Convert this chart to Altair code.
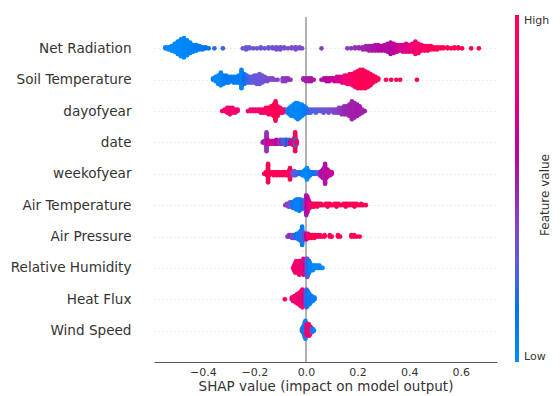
import math
import altair as alt
import numpy as np
import pandas as pd

FEATURES = ["Net Radiation", "Soil Temperature", "dayofyear", "date", "weekofyear",
            "Air Temperature", "Air Pressure", "Relative Humidity", "Heat Flux", "Wind Speed"]

# (SHAP value, number of samples in that bin, normalised feature value)
NET_RADIATION = [
    (-0.545, 2, .05), (-0.533, 3, .03), (-0.521, 5, .02), (-0.509, 8, .0), (-0.497, 12, .02),
    (-0.485, 16, .0), (-0.473, 18, .03), (-0.461, 14, .02), (-0.449, 10, .05), (-0.437, 7, .08),
    (-0.425, 6, .1), (-0.413, 4, .1), (-0.401, 3, .12), (-0.389, 2, .15), (-0.377, 1, .15),
    (-0.355, 1, .2), (-0.322, 1, .22),
    (-0.245, 1, .32), (-0.232, 3, .3), (-0.220, 2, .3), (-0.205, 1, .33), (-0.190, 1, .3),
    (-0.175, 2, .32), (-0.160, 1, .35), (-0.145, 2, .33), (-0.130, 2, .35), (-0.115, 3, .34),
    (-0.100, 3, .36), (-0.085, 2, .35), (-0.070, 1, .37), (-0.055, 2, .36), (-0.040, 3, .35),
    (-0.025, 2, .38), (-0.015, 1, .38), (0.06, 1, .4),
    (0.16, 1, .42), (0.175, 1, .45), (0.19, 2, .45), (0.205, 2, .48), (0.22, 3, .5),
    (0.232, 4, .5), (0.244, 5, .52), (0.256, 5, .55), (0.268, 6, .55), (0.28, 6, .58),
    (0.292, 5, .6), (0.304, 6, .58), (0.316, 8, .55), (0.328, 11, .6), (0.340, 9, .62),
    (0.352, 7, .65), (0.364, 6, .7), (0.376, 7, .72), (0.388, 8, .75), (0.400, 7, .78),
    (0.412, 8, .82), (0.424, 12, .88), (0.436, 9, .9), (0.448, 6, .92), (0.460, 5, .9),
    (0.472, 5, .95), (0.484, 4, .95), (0.496, 3, .97), (0.508, 3, .95), (0.520, 2, .97),
    (0.532, 2, 1.0), (0.548, 2, .98), (0.562, 1, 1.0), (0.575, 2, .97), (0.590, 2, 1.0),
    (0.605, 1, .98), (0.64, 1, 1.0), (0.67, 1, 1.0),
]
SOIL_TEMPERATURE = [
    (-0.36, 2, .05), (-0.35, 4, .03), (-0.34, 7, .02), (-0.33, 10, .05), (-0.32, 7, .08),
    (-0.31, 6, .1), (-0.30, 5, .1), (-0.29, 4, .12), (-0.28, 5, .1), (-0.27, 5, .08),
    (-0.26, 6, .1), (-0.25, 14, .05), (-0.24, 8, .15), (-0.23, 6, .2), (-0.22, 5, .25),
    (-0.21, 5, .28), (-0.20, 6, .3), (-0.19, 7, .32), (-0.18, 8, .3), (-0.17, 6, .33),
    (-0.16, 4, .35), (-0.15, 3, .35), (-0.14, 2, .38), (-0.13, 2, .38), (-0.12, 1, .4),
    (-0.11, 1, .4), (-0.09, 3, .42), (-0.08, 3, .42), (-0.07, 2, .45), (-0.06, 1, .45),
    (-0.01, 2, .5), (0.0, 3, .52), (0.01, 3, .52), (0.02, 3, .55), (0.03, 1, .55),
    (0.06, 1, .55), (0.07, 2, .58), (0.08, 3, .6), (0.09, 3, .62), (0.10, 2, .62),
    (0.11, 3, .65), (0.12, 4, .7), (0.13, 4, .72), (0.14, 5, .75), (0.15, 6, .8),
    (0.16, 7, .85), (0.17, 8, .88), (0.18, 9, .9), (0.19, 11, .92), (0.20, 13, .95),
    (0.21, 14, .97), (0.22, 14, 1.0), (0.23, 13, .97), (0.24, 11, .95), (0.25, 9, .97),
    (0.26, 6, .95), (0.27, 4, .98), (0.28, 2, .95), (0.31, 1, 1.0), (0.33, 1, .98),
    (0.35, 1, 1.0), (0.365, 1, .97), (0.43, 1, 1.0),
]
DAYOFYEAR = [
    (-0.325, 1, .88), (-0.315, 2, .85), (-0.305, 4, .85), (-0.295, 5, .87), (-0.285, 4, .85),
    (-0.275, 3, .88), (-0.265, 2, .85), (-0.225, 1, .85), (-0.215, 2, .88), (-0.205, 2, .85),
    (-0.195, 2, .9), (-0.185, 2, .88), (-0.175, 3, .9), (-0.165, 3, .92), (-0.155, 4, .9),
    (-0.145, 5, .95), (-0.135, 6, .97), (-0.125, 8, 1.0), (-0.118, 13, 1.0), (-0.110, 7, .97),
    (-0.100, 4, .95), (-0.090, 3, .92), (-0.082, 2, .9), (-0.072, 3, .05), (-0.064, 5, .08),
    (-0.056, 7, .05), (-0.048, 8, .03), (-0.040, 10, .02), (-0.032, 11, 0.0), (-0.024, 9, .05),
    (-0.016, 8, .03), (-0.008, 6, .08), (0.0, 4, .12), (0.008, 3, .2), (0.018, 3, .25),
    (0.028, 2, .28), (0.038, 3, .25), (0.048, 2, .3), (0.058, 2, .3), (0.068, 3, .32),
    (0.078, 2, .33), (0.088, 3, .35), (0.098, 2, .36), (0.108, 3, .38), (0.118, 3, .4),
    (0.128, 4, .42), (0.138, 5, .45), (0.148, 6, .48), (0.158, 6, .5), (0.168, 8, .5),
    (0.178, 12, .52), (0.188, 10, .5), (0.198, 8, .55), (0.208, 6, .53), (0.218, 3, .5),
    (0.228, 1, .55),
]
DATE = [
    (-0.168, 1, .5), (-0.162, 2, .55), (-0.157, 3, .5), (-0.153, 16, .45), (-0.149, 4, .6),
    (-0.145, 3, .7), (-0.140, 3, .75), (-0.135, 3, .7), (-0.130, 2, .65), (-0.125, 3, .7),
    (-0.120, 3, .55), (-0.115, 4, .6), (-0.110, 3, .65), (-0.105, 3, .5), (-0.100, 4, .45),
    (-0.095, 3, .7), (-0.090, 4, .1), (-0.085, 3, .4), (-0.080, 5, .35), (-0.075, 4, .15),
    (-0.070, 3, .5), (-0.065, 4, .1), (-0.060, 3, .6), (-0.055, 3, .75), (-0.050, 5, .9),
    (-0.046, 6, .95), (-0.042, 16, 1.0), (-0.041, 4, .1), (-0.039, 5, .1), (-0.036, 3, .9),
]
WEEKOFYEAR = [
    (-0.162, 1, .95), (-0.156, 2, 1.0), (-0.151, 3, 1.0), (-0.147, 14, 1.0), (-0.143, 3, .98),
    (-0.138, 2, 1.0), (-0.132, 2, .95), (-0.126, 3, 1.0), (-0.120, 2, .97), (-0.114, 3, 1.0),
    (-0.108, 2, .95), (-0.102, 3, 1.0), (-0.096, 2, .98), (-0.090, 3, .95), (-0.084, 2, 1.0),
    (-0.078, 3, .92), (-0.072, 3, .95), (-0.066, 4, .97), (-0.062, 9, 1.0), (-0.058, 3, .9),
    (-0.052, 3, .4), (-0.046, 4, .3), (-0.040, 3, .35), (-0.034, 2, .2), (-0.028, 2, .25),
    (-0.020, 2, .15), (-0.014, 3, .1), (-0.008, 4, .05), (-0.002, 6, .03), (0.004, 9, .0),
    (0.010, 5, .05), (0.016, 3, .08), (0.022, 2, .1), (0.030, 2, .15), (0.038, 2, .2),
    (0.046, 2, .25), (0.054, 3, .45), (0.060, 5, .55), (0.066, 7, .6), (0.070, 8, .5),
    (0.074, 15, .55), (0.078, 7, .65), (0.083, 6, .6), (0.088, 4, .7), (0.094, 3, .55),
    (0.100, 2, .65),
]
AIR_TEMPERATURE = [
    (-0.080, 1, .45), (-0.074, 2, .4), (-0.068, 3, .38), (-0.062, 4, .35), (-0.056, 4, .3),
    (-0.050, 5, .15), (-0.044, 6, .1), (-0.038, 8, .05), (-0.032, 8, .08), (-0.026, 9, .05),
    (-0.020, 8, .1), (-0.014, 6, .15), (-0.008, 5, .2), (-0.003, 8, .4), (0.001, 15, .5),
    (0.005, 12, .6), (0.009, 8, .65), (0.014, 5, .75), (0.020, 3, .85), (0.026, 3, .9),
    (0.032, 3, .95), (0.038, 2, .95), (0.044, 3, 1.0), (0.050, 2, .95), (0.058, 2, 1.0),
    (0.066, 1, .97), (0.076, 2, 1.0), (0.084, 3, .97), (0.092, 2, 1.0), (0.100, 1, .95),
    (0.110, 2, 1.0), (0.118, 3, .97), (0.126, 2, 1.0), (0.134, 1, .95), (0.146, 2, 1.0),
    (0.154, 3, .98), (0.162, 2, .95), (0.170, 2, 1.0), (0.180, 2, .97), (0.188, 3, 1.0),
    (0.196, 2, .95), (0.206, 1, 1.0), (0.214, 2, .97), (0.222, 1, 1.0), (0.232, 1, .98),
]
AIR_PRESSURE = [
    (-0.072, 1, .45), (-0.066, 2, .4), (-0.060, 2, .5), (-0.054, 3, .35), (-0.048, 3, .4),
    (-0.042, 3, .2), (-0.036, 4, .15), (-0.030, 5, .25), (-0.025, 6, .1), (-0.020, 8, .05),
    (-0.015, 14, .1), (-0.011, 6, .3), (-0.007, 5, .45), (-0.003, 4, .2), (0.002, 5, .6),
    (0.008, 4, .85), (0.014, 3, .95), (0.020, 3, 1.0), (0.026, 2, .95), (0.032, 3, 1.0),
    (0.038, 2, .97), (0.046, 2, 1.0), (0.054, 2, .95), (0.062, 1, 1.0), (0.072, 2, .98),
    (0.092, 2, 1.0), (0.100, 1, .97), (0.124, 2, 1.0), (0.132, 1, .95), (0.176, 2, 1.0),
    (0.186, 2, .97), (0.196, 1, 1.0), (0.208, 1, .98),
]
RELATIVE_HUMIDITY = [
    (-0.050, 1, .85), (-0.046, 3, .9), (-0.042, 5, .8), (-0.038, 6, .95), (-0.034, 4, .75),
    (-0.030, 5, .9), (-0.026, 7, 1.0), (-0.022, 6, .8), (-0.018, 4, .85), (-0.014, 6, .95),
    (-0.010, 8, .7), (-0.006, 5, .85), (-0.002, 4, .6), (0.002, 8, .45), (0.005, 9, .35),
    (0.008, 7, .2), (0.012, 6, .1), (0.016, 4, .05), (0.020, 3, .0), (0.026, 3, .05),
    (0.032, 2, .02), (0.038, 2, .05), (0.045, 2, .0), (0.052, 2, .03), (0.058, 1, .05),
    (0.064, 1, .0),
]
HEAT_FLUX = [
    (-0.082, 1, 1.0), (-0.055, 2, .9), (-0.050, 3, .75), (-0.045, 4, .8), (-0.040, 5, .95),
    (-0.035, 6, .85), (-0.030, 7, .7), (-0.026, 8, .9), (-0.022, 9, 1.0), (-0.018, 10, .8),
    (-0.014, 12, .85), (-0.010, 9, .95), (-0.006, 7, .6), (-0.002, 10, .45), (0.002, 12, .3),
    (0.006, 10, .15), (0.010, 8, .1), (0.014, 7, .05), (0.018, 5, .1), (0.022, 4, .2),
    (0.027, 3, .05), (0.033, 2, .1),
]
WIND_SPEED = [
    (-0.016, 2, .3), (-0.012, 4, .1), (-0.008, 6, .05), (-0.005, 10, .2), (-0.002, 12, .05),
    (0.001, 8, .45), (0.004, 6, .7), (0.007, 7, .9), (0.010, 8, 1.0), (0.013, 7, .85),
    (0.016, 5, .95), (0.019, 4, .75), (0.023, 3, .3), (0.027, 2, .1), (0.031, 1, .05),
]

ROWS = [NET_RADIATION, SOIL_TEMPERATURE, DAYOFYEAR, DATE, WEEKOFYEAR,
        AIR_TEMPERATURE, AIR_PRESSURE, RELATIVE_HUMIDITY, HEAT_FLUX, WIND_SPEED]

X_TICKS = [-0.4, -0.2, 0.0, 0.2, 0.4, 0.6]
COLORBAR_TITLE = "Feature value"
X_TITLE = "SHAP value (impact on model output)"


# shap "red_blue" colormap: LCH interpolation (blue -> dark purple -> red)
def lch_to_hex(l, c, h):
    a, b = c * math.cos(h), c * math.sin(h)
    fy = (l + 16) / 116
    fx, fz = fy + a / 500, fy - b / 200
    finv = lambda t: t ** 3 if t > 6 / 29 else 3 * (6 / 29) ** 2 * (t - 4 / 29)
    X, Y, Z = 0.95047 * finv(fx), finv(fy), 1.08883 * finv(fz)
    rgb = [3.2406 * X - 1.5372 * Y - 0.4986 * Z,
           -0.9689 * X + 1.8758 * Y + 0.0415 * Z,
           0.0557 * X - 0.2040 * Y + 1.0570 * Z]
    out = []
    for v in rgb:
        v = 12.92 * v if v <= 0.0031308 else 1.055 * max(v, 0) ** (1 / 2.4) - 0.055
        out.append(int(round(min(max(v, 0), 1) * 255)))
    return "#%02x%02x%02x" % tuple(out)


blue_lch = (54.0, 70.0, 4.6588)
red_lch = (54.0, 90.0, 0.35470565 + 2 * np.pi)
l_mid = 40.0
nsteps = 100
l_vals = list(np.linspace(blue_lch[0], l_mid, nsteps // 2)) + list(np.linspace(l_mid, red_lch[0], nsteps // 2))
c_vals = np.linspace(blue_lch[1], red_lch[1], nsteps)
h_vals = np.linspace(blue_lch[2], red_lch[2], nsteps)
idx = list(range(0, nsteps, 5)) + [nsteps - 1]
CMAP = [lch_to_hex(l_vals[k], c_vals[k], h_vals[k]) for k in idx]
CMAP_DOMAIN = [k / (nsteps - 1) for k in idx]

# deterministic beeswarm layout (as in shap.summary_plot)
records = []
n_feat = len(FEATURES)
for i, (name, groups) in enumerate(zip(FEATURES, ROWS)):
    pos = n_feat - 1 - i
    pts = []
    for shap, n, fv in groups:
        for layer in range(n):
            off = math.ceil(layer / 2) * ((layer % 2) * 2 - 1)
            pts.append((shap, fv, off))
    m = max(p[2] for p in pts) + 1
    for shap, fv, off in pts:
        records.append({"feature": name, "shap": shap, "fv": fv,
                        "y": pos + off * 0.9 * 0.4 / m})
df = pd.DataFrame(records)

x_scale = alt.Scale(domain=[-0.5891, 0.7403], nice=False, zero=False)
y_scale = alt.Scale(domain=[-1, n_feat], nice=False, zero=False)
names_js = "[" + ",".join("'" + f + "'" for f in reversed(FEATURES)) + "]"

x_axis = alt.Axis(values=X_TICKS, title=X_TITLE,
                  labelExpr="replace(format(datum.value, '.1f'), '-', '\u2212')",
                  grid=False, ticks=False,
                  domainColor="#555555", domainWidth=1,
                  labelFontSize=11, labelColor="#333333", labelPadding=4,
                  titleFontSize=13.5, titleFontWeight="normal", titleColor="#333333",
                  titlePadding=2)

zero_line = alt.Chart(pd.DataFrame({"shap": [0.0]})).mark_rule(
    color="#999999", strokeWidth=1.5
).encode(x=alt.X("shap:Q", scale=x_scale, axis=x_axis))

dots = alt.Chart(df).mark_circle(size=22, opacity=1, strokeWidth=0).encode(
    x=alt.X("shap:Q", scale=x_scale, axis=x_axis),
    y=alt.Y("y:Q", scale=y_scale,
            axis=alt.Axis(values=list(range(n_feat)), labelExpr=names_js + "[datum.value]",
                          grid=True, gridDash=[1, 3], gridColor="#cccccc", gridWidth=0.7,
                          domain=False, ticks=False, labelPadding=23, labelFontSize=13.6,
                          labelColor="#333333", title=None)),
    color=alt.Color("fv:Q",
                    scale=alt.Scale(domain=CMAP_DOMAIN, range=CMAP, interpolate="rgb"),
                    legend=alt.Legend(orient="none", legendX=361, legendY=-2, direction="vertical",
                                      gradientLength=347, gradientThickness=4, gradientStrokeWidth=0,
                                      values=[0, 1],
                                      labelExpr="datum.value >= 1 ? 'High' : 'Low'",
                                      labelFontSize=11, labelColor="#333333", labelOffset=5,
                                      title=None)),
)

cb_title = alt.Chart(pd.DataFrame({"t": [COLORBAR_TITLE]})).mark_text(
    angle=270, fontSize=12, color="#333333", align="center", baseline="middle"
).encode(text="t:N", x=alt.value(391), y=alt.value(178))

chart = alt.layer(zero_line, dots, cb_title).properties(
    width=343, height=345,
    autosize=alt.AutoSizeParams(type="none"),
    padding={"left": 146, "top": 9, "right": 55, "bottom": 33},
).configure(font="DejaVu Sans").configure_view(stroke=None)

chart.save("out.html", embed_options={"renderer": "svg", "actions": False})
